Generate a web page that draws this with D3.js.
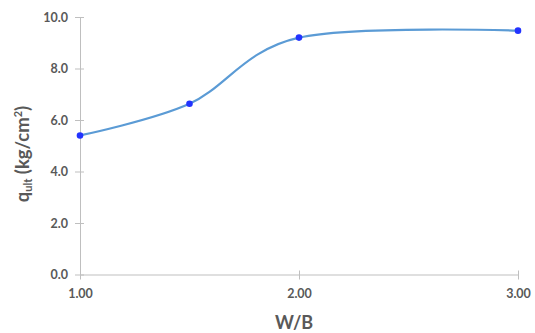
<!DOCTYPE html>
<html>
<head>
<meta charset="utf-8">
<script src="https://cdn.jsdelivr.net/npm/d3@7"></script>
<style>
  body { margin: 0; background: #fff; }
  text { font-family: Lato, "Open Sans", sans-serif; fill: #595959; }
</style>
</head>
<body>
<svg id="chart" width="535" height="333"></svg>
<script>
// W/B ratio vs ultimate bearing capacity
const ratios = [1.0, 1.5, 2.0, 3.0];
const qult = [5.4, 6.63, 9.2, 9.47];
const xTicks = [1, 2, 3];
const yTicks = [0, 2, 4, 6, 8, 10];

const svg = d3.select("#chart");

const x = d3.scaleLinear().domain([1, 3]).range([80, 518]);
const y = d3.scaleLinear().domain([0, 10]).range([274.5, 17]);

const grey = "#bfbfbf";

// y axis
const yAxis = svg.append("g")
  .attr("transform", `translate(${x(1)},0)`)
  .call(d3.axisLeft(y).tickValues(yTicks).tickFormat(d3.format(".1f")).tickSizeInner(5).tickSizeOuter(0).tickPadding(7));
yAxis.select(".domain").attr("stroke", grey);
yAxis.selectAll(".tick line").attr("stroke", grey).attr("x2", 4).attr("x1", -5);
yAxis.selectAll(".tick text")
  .attr("font-size", 12.5).attr("font-weight", "bold")
  .style("font-family", "Lato, sans-serif").attr("fill", "#595959");

// x axis
const xAxis = svg.append("g")
  .attr("transform", `translate(0,${y(0)})`)
  .call(d3.axisBottom(x).tickValues(xTicks).tickFormat(d3.format(".2f")).tickSizeInner(5).tickSizeOuter(0).tickPadding(10));
xAxis.select(".domain").attr("stroke", grey);
xAxis.selectAll(".tick line").attr("stroke", grey).attr("y1", -4).attr("y2", 5);
xAxis.selectAll(".tick text")
  .attr("font-size", 12.5).attr("font-weight", "bold")
  .style("font-family", "Lato, sans-serif").attr("fill", "#595959");

// smoothed line
const pts = ratios.map((r, i) => [r, qult[i]]);
const line = d3.line()
  .x(d => x(d[0]))
  .y(d => y(d[1]))
  .curve(d3.curveCardinal.tension(0));

svg.append("path")
  .datum(pts)
  .attr("fill", "none")
  .attr("stroke", "#5b9bd5")
  .attr("stroke-width", 2.2)
  .attr("stroke-linecap", "round")
  .attr("d", line);

svg.append("g").selectAll("circle")
  .data(pts)
  .join("circle")
  .attr("cx", d => x(d[0]))
  .attr("cy", d => y(d[1]))
  .attr("r", 3.3)
  .attr("fill", "#2233ff");

// axis titles
svg.append("text")
  .attr("x", 294)
  .attr("y", 329)
  .attr("text-anchor", "middle")
  .attr("font-size", 18)
  .attr("font-weight", "bold")
  .text("W/B");

const yt = svg.append("text")
  .attr("transform", "translate(29,154) rotate(-90)")
  .attr("text-anchor", "middle")
  .attr("font-size", 18.5)
  .attr("font-weight", "bold");
yt.append("tspan").text("q");
yt.append("tspan").attr("font-size", 11).attr("dy", 3).text("ult");
yt.append("tspan").attr("dy", -3).text(" (kg/cm");
yt.append("tspan").attr("font-size", 11).attr("dy", -7).text("2");
yt.append("tspan").attr("dy", 7).text(")");
</script>
</body>
</html>
